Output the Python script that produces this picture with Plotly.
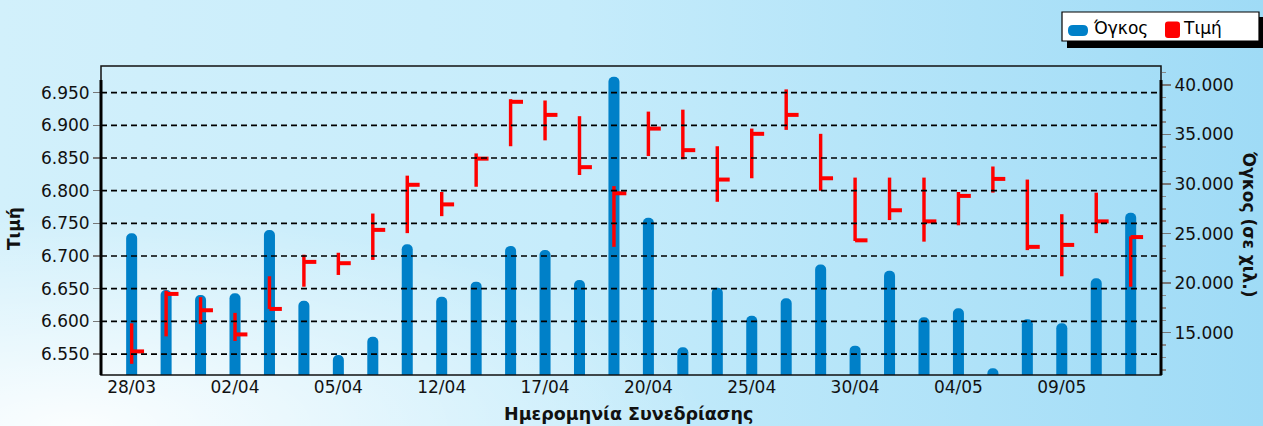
import base64
import plotly.graph_objects as go

# ---------------- data ----------------
dates = ["28/03", "29/03", "30/03", "02/04", "03/04", "04/04", "05/04", "10/04",
         "11/04", "12/04", "13/04", "16/04", "17/04", "18/04", "19/04", "20/04",
         "23/04", "24/04", "25/04", "26/04", "27/04", "30/04", "02/05", "03/05",
         "04/05", "07/05", "08/05", "09/05", "10/05", "11/05"]

volume = [25030, 19300, 18800, 18970, 25360, 18230, 12750, 14590, 23920, 18630,
          20150, 23750, 23350, 20320, 40840, 26600, 13520, 19540, 16710, 18470,
          21880, 13690, 21250, 16550, 17460, 11400, 16350, 15950, 20490, 27110]

price_high = [6.597, 6.647, 6.637, 6.613, 6.669, 6.702, 6.705, 6.765, 6.823, 6.798,
              6.857, 6.940, 6.938, 6.914, 6.807, 6.921, 6.924, 6.868, 6.895, 6.955,
              6.887, 6.820, 6.820, 6.820, 6.798, 6.837, 6.817, 6.764, 6.797, 6.730]
price_low = [6.535, 6.577, 6.596, 6.570, 6.619, 6.653, 6.671, 6.694, 6.735, 6.761,
             6.806, 6.868, 6.877, 6.824, 6.714, 6.853, 6.848, 6.783, 6.819, 6.893,
             6.800, 6.723, 6.755, 6.722, 6.747, 6.797, 6.709, 6.669, 6.735, 6.653]
price_close = [6.554, 6.642, 6.617, 6.580, 6.619, 6.691, 6.689, 6.740, 6.809, 6.779,
               6.849, 6.936, 6.916, 6.836, 6.796, 6.895, 6.862, 6.817, 6.887, 6.916,
               6.819, 6.724, 6.770, 6.753, 6.792, 6.818, 6.714, 6.717, 6.753, 6.729]

price_ticks = [6.55, 6.60, 6.65, 6.70, 6.75, 6.80, 6.85, 6.90, 6.95]
price_tick_labels = ["6.550", "6.600", "6.650", "6.700", "6.750", "6.800", "6.850", "6.900", "6.950"]
volume_ticks = [15000, 20000, 25000, 30000, 35000, 40000]
volume_tick_labels = ["15.000", "20.000", "25.000", "30.000", "35.000", "40.000"]
date_tick_step = 3

names = {"volume": "Όγκος", "price": "Τιμή"}
x_title = "Ημερομηνία Συνεδρίασης"
y_title = "Τιμή"
y2_title = "Όγκος (σε χιλ.)"

# ---------------- style ----------------
W, H = 1263, 426
ML, MR, MT, MB = 101, 102, 66, 51
PW, PH = W - ML - MR, H - MT - MB
FONT = "DejaVu Sans"
BLUE = "#0080c8"
RED = "#ff0000"
TICK_OFFSET = 0.36

idx = list(range(len(dates)))


def px_x(p):
    return (p - ML) / PW


def px_y(p):
    return (H - MB - p) / PH


def rounded_rect_path(x0, y0, x1, y1, r):
    """Rounded rectangle, given in page pixels, as a paper-coordinate SVG path."""
    pts = [("M", [(x0 + r, y0)]), ("L", [(x1 - r, y0)]), ("Q", [(x1, y0), (x1, y0 + r)]),
           ("L", [(x1, y1 - r)]), ("Q", [(x1, y1), (x1 - r, y1)]), ("L", [(x0 + r, y1)]),
           ("Q", [(x0, y1), (x0, y1 - r)]), ("L", [(x0, y0 + r)]), ("Q", [(x0, y0), (x0 + r, y0)])]
    out = []
    for cmd, ps in pts:
        out.append(cmd + " ".join(f"{px_x(a):.5f},{px_y(b):.5f}" for a, b in ps))
    return "".join(out) + "Z"


# gradient background as inline svg
svg = f'''<svg xmlns="http://www.w3.org/2000/svg" width="{W}" height="{H}" viewBox="0 0 {W} {H}" preserveAspectRatio="none">
<defs>
<linearGradient id="g" x1="0" y1="0" x2="1" y2="0">
<stop offset="0" stop-color="#d2f0fb"/>
<stop offset="0.45" stop-color="#c6ecfb"/>
<stop offset="1" stop-color="#9fdbf6"/>
</linearGradient>
<radialGradient id="r" cx="0.06" cy="1.0" r="0.5">
<stop offset="0" stop-color="#ffffff" stop-opacity="0.9"/>
<stop offset="0.6" stop-color="#ffffff" stop-opacity="0.35"/>
<stop offset="1" stop-color="#ffffff" stop-opacity="0"/>
</radialGradient>
</defs>
<rect width="{W}" height="{H}" fill="url(#g)"/>
<rect width="{W}" height="{H}" fill="url(#r)"/>
</svg>'''
bg_uri = "data:image/svg+xml;base64," + base64.b64encode(svg.encode()).decode()

fig = go.Figure()

fig.add_trace(go.Bar(
    x=idx, y=volume, name=names["volume"], yaxis="y",
    marker=dict(color=BLUE, cornerradius="50%", line=dict(width=0)),
    width=0.32, hoverinfo="skip", showlegend=False,
))

fig.add_trace(go.Bar(
    x=idx, y=[h - l for h, l in zip(price_high, price_low)], base=price_low,
    name=names["price"], yaxis="y2",
    marker=dict(color=RED, line=dict(width=0)),
    width=0.1, hoverinfo="skip", showlegend=False,
))

tick_x, tick_y = [], []
for i, c in zip(idx, price_close):
    tick_x += [i, i + TICK_OFFSET, None]
    tick_y += [c, c, None]
fig.add_trace(go.Scatter(
    x=tick_x, y=tick_y, mode="lines", yaxis="y2", showlegend=False,
    name=names["price"], line=dict(color=RED, width=4), hoverinfo="skip",
))

shapes = []
# dashed grid lines (drawn above the volume bars, as in the original)
for t in price_ticks:
    shapes.append(dict(type="line", xref="paper", yref="y2", x0=0, x1=1, y0=t, y1=t,
                       line=dict(color="#000000", width=1.7, dash="6px,4px"), layer="above"))
# frame
shapes.append(dict(type="rect", xref="paper", yref="paper", x0=0, x1=1, y0=0, y1=1,
                   line=dict(color="#111111", width=1.5), layer="above"))
# thick axis lines
for xx in (0, 1):
    shapes.append(dict(type="line", xref="paper", yref="paper", x0=xx, x1=xx, y0=0, y1=px_y(80),
                       line=dict(color="#000000", width=3), layer="above"))

# legend box (shadow, box, symbols)
LG = dict(x0=1062, x1=1259, y0=12, y1=41, shadow=5)
shapes.append(dict(type="rect", xref="paper", yref="paper",
                   x0=px_x(LG["x0"] + LG["shadow"]), x1=px_x(LG["x1"] + LG["shadow"]),
                   y0=px_y(LG["y1"] + LG["shadow"] + 2), y1=px_y(LG["y0"] + LG["shadow"]),
                   fillcolor="#000000", line=dict(width=0), layer="above"))
shapes.append(dict(type="rect", xref="paper", yref="paper",
                   x0=px_x(LG["x0"]), x1=px_x(LG["x1"]), y0=px_y(LG["y1"]), y1=px_y(LG["y0"]),
                   fillcolor="#ffffff", line=dict(color="#000000", width=1.2), layer="above"))
shapes.append(dict(type="path", xref="paper", yref="paper",
                   path=rounded_rect_path(1068, 25, 1088, 36, 5),
                   fillcolor=BLUE, line=dict(width=0), layer="above"))
shapes.append(dict(type="path", xref="paper", yref="paper",
                   path=rounded_rect_path(1165, 21.5, 1180, 38, 3),
                   fillcolor=RED, line=dict(width=0), layer="above"))

annotations = [
    dict(text=f"<b>{y_title}</b>", xref="paper", yref="paper", x=px_x(14), y=px_y(229),
         textangle=-90, showarrow=False, font=dict(family=FONT, size=17, color="#111"),
         xanchor="center", yanchor="middle"),
    dict(text=f"<b>{y2_title}</b>", xref="paper", yref="paper", x=px_x(1249), y=px_y(224),
         textangle=90, showarrow=False, font=dict(family=FONT, size=17, color="#111"),
         xanchor="center", yanchor="middle"),
    dict(text=f"<b>{x_title}</b>", xref="paper", yref="paper", x=px_x(628), y=px_y(414),
         showarrow=False, font=dict(family=FONT, size=17.5, color="#111"),
         xanchor="center", yanchor="middle"),
    dict(text=names["volume"], xref="paper", yref="paper", x=px_x(1091), y=px_y(28),
         showarrow=False, font=dict(family=FONT, size=17, color="#000"),
         xanchor="left", yanchor="middle"),
    dict(text=names["price"], xref="paper", yref="paper", x=px_x(1181), y=px_y(28),
         showarrow=False, font=dict(family=FONT, size=17, color="#000"),
         xanchor="left", yanchor="middle"),
]

fig.update_layout(
    width=W, height=H,
    margin=dict(l=ML, r=MR, t=MT, b=MB, pad=0),
    paper_bgcolor="#c6ecfb",
    plot_bgcolor="rgba(0,0,0,0)",
    barmode="overlay",
    font=dict(family=FONT, size=17, color="#111"),
    showlegend=False,
    xaxis=dict(
        range=[-0.89, 29.88],
        tickmode="array",
        tickvals=idx[::date_tick_step],
        ticktext=dates[::date_tick_step],
        showgrid=False, zeroline=False, showline=False, ticks="",
        tickfont=dict(family=FONT, size=17, color="#111"),
    ),
    yaxis=dict(
        side="right", range=[10727, 41918],
        tickmode="array", tickvals=volume_ticks, ticktext=volume_tick_labels,
        ticks="outside", ticklen=9, tickcolor="#777777", tickwidth=1.5,
        minor=dict(tickmode="linear", tick0=0, dtick=1250, ticks="outside",
                   ticklen=4, tickcolor="#888888", tickwidth=1.5),
        showgrid=False, zeroline=False, showline=False,
        tickfont=dict(family=FONT, size=17, color="#111"),
    ),
    yaxis2=dict(
        overlaying="y", side="left", range=[6.5179, 6.9908],
        tickmode="array", tickvals=price_ticks, ticktext=price_tick_labels,
        ticks="outside", ticklen=7, tickcolor="#777777", tickwidth=1.5,
        showgrid=False, zeroline=False, showline=False,
        tickfont=dict(family=FONT, size=17, color="#111"),
    ),
    shapes=shapes,
    annotations=annotations,
    images=[dict(source=bg_uri, xref="paper", yref="paper",
                 x=-ML / PW, y=(H - MB) / PH, sizex=W / PW, sizey=H / PH,
                 sizing="stretch", layer="below", xanchor="left", yanchor="top")],
    hovermode=False,
)

fig.write_html(
    "out.html",
    config={"displayModeBar": False, "staticPlot": True},
    post_script="document.body.style.margin='0';document.body.style.overflow='hidden';",
)
